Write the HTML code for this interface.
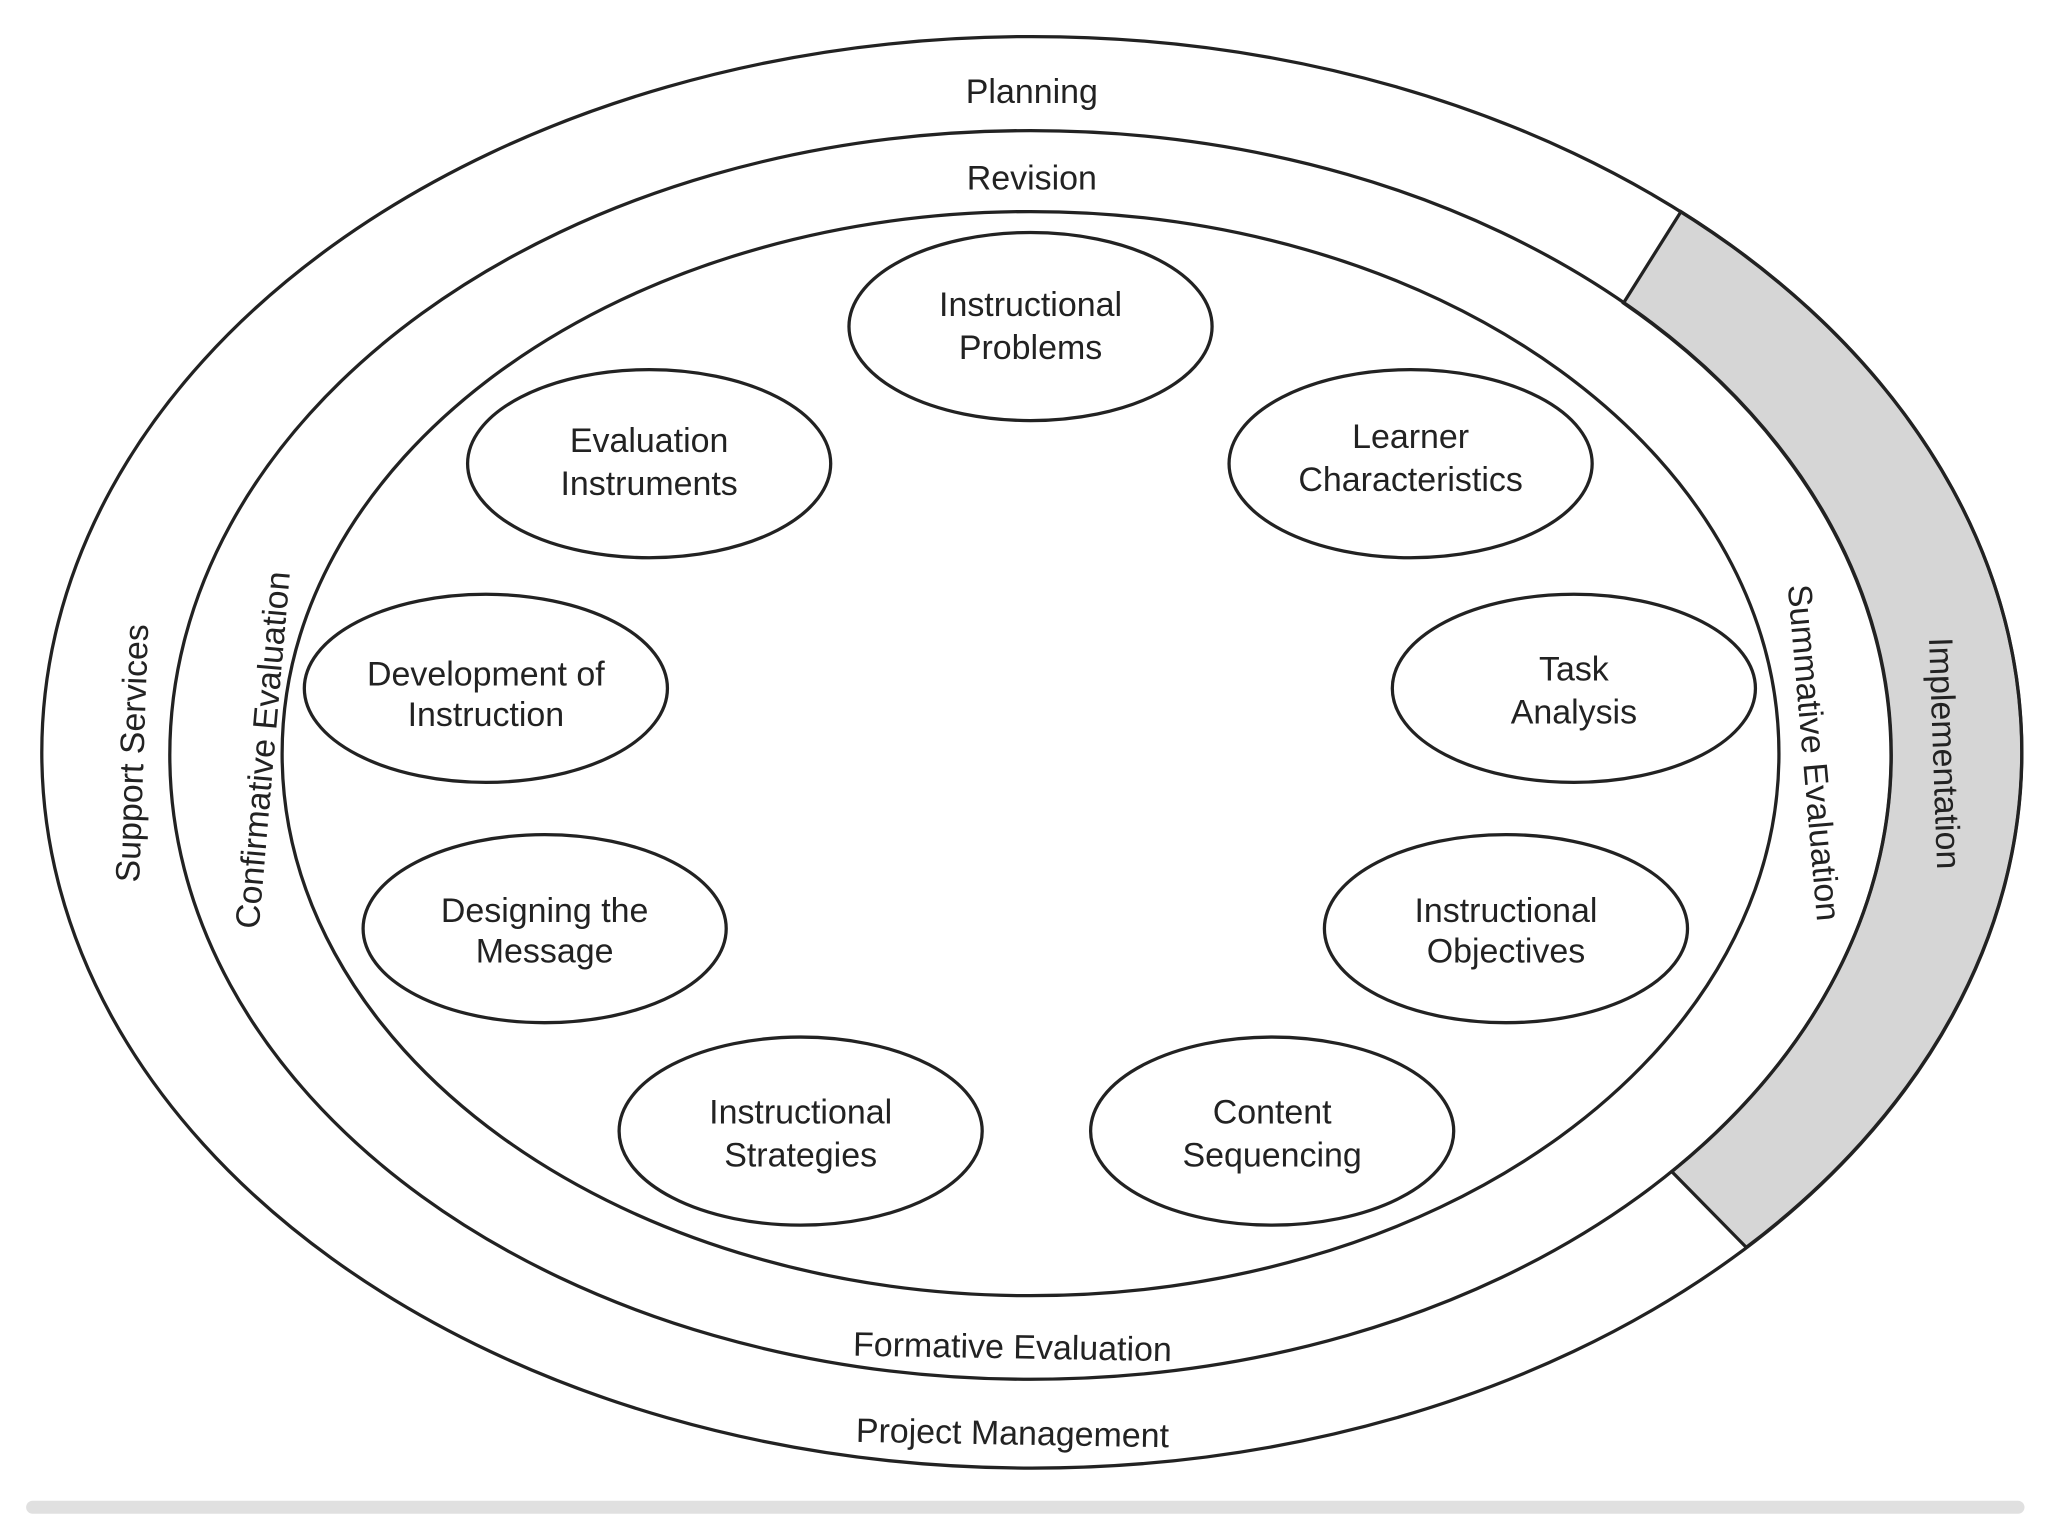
<!DOCTYPE html>
<html><head><meta charset="utf-8"><style>
html,body{margin:0;padding:0;background:#fff;width:2048px;height:1536px;overflow:hidden}
svg{display:block}
text{font-family:"Liberation Sans",sans-serif;fill:#222;font-size:26px;text-anchor:middle}
</style></head><body>
<svg width="2048" height="1536" viewBox="0 0 1568 1176" xmlns="http://www.w3.org/2000/svg">
<rect width="1568" height="1176" fill="#fff"/>
<rect x="20" y="1149" width="1530" height="10" rx="5" fill="#e0e0e0"/>
<path d="M1243,232 L1287,162 A758,548 0 0 1 1337,955 L1280,897 A659,478 0 0 0 1243,232 Z" fill="#d6d6d6" stroke="#222" stroke-width="2.5"/>
<g fill="none" stroke="#222" stroke-width="2.5">
<ellipse cx="790" cy="576" rx="758" ry="548"/>
<ellipse cx="789" cy="578" rx="659" ry="478"/>
<ellipse cx="789" cy="577" rx="573" ry="415"/>
<ellipse cx="789" cy="250" rx="139" ry="72"/>
<ellipse cx="497" cy="355" rx="139" ry="72"/>
<ellipse cx="1080" cy="355" rx="139" ry="72"/>
<ellipse cx="372" cy="527" rx="139" ry="72"/>
<ellipse cx="1205" cy="527" rx="139" ry="72"/>
<ellipse cx="417" cy="711" rx="139" ry="72"/>
<ellipse cx="1153" cy="711" rx="139" ry="72"/>
<ellipse cx="613" cy="866" rx="139" ry="72"/>
<ellipse cx="974" cy="866" rx="139" ry="72"/>
</g>
<text x="790" y="79">Planning</text>
<text x="790" y="145">Revision</text>
<text x="789" y="242">Instructional</text><text x="789" y="275">Problems</text>
<text x="497" y="346">Evaluation</text><text x="497" y="379">Instruments</text>
<text x="1080" y="343">Learner</text><text x="1080" y="376">Characteristics</text>
<text x="372" y="525">Development of</text><text x="372" y="556">Instruction</text>
<text x="1205" y="521">Task</text><text x="1205" y="554">Analysis</text>
<text x="417" y="706">Designing the</text><text x="417" y="737">Message</text>
<text x="1153" y="706">Instructional</text><text x="1153" y="737">Objectives</text>
<text x="613" y="860">Instructional</text><text x="613" y="893">Strategies</text>
<text x="974" y="860">Content</text><text x="974" y="893">Sequencing</text>
<text transform="translate(110,577) rotate(-88)">Support Services</text>
<text transform="translate(210,575) rotate(-85)">Confirmative Evaluation</text>
<text transform="translate(1380,577) rotate(85)">Summative Evaluation</text>
<text transform="translate(1480,577) rotate(88)">Implementation</text>
<text transform="translate(775,1040) rotate(1)">Formative Evaluation</text>
<text transform="translate(775,1106) rotate(1)">Project Management</text>
</svg>
</body></html>
